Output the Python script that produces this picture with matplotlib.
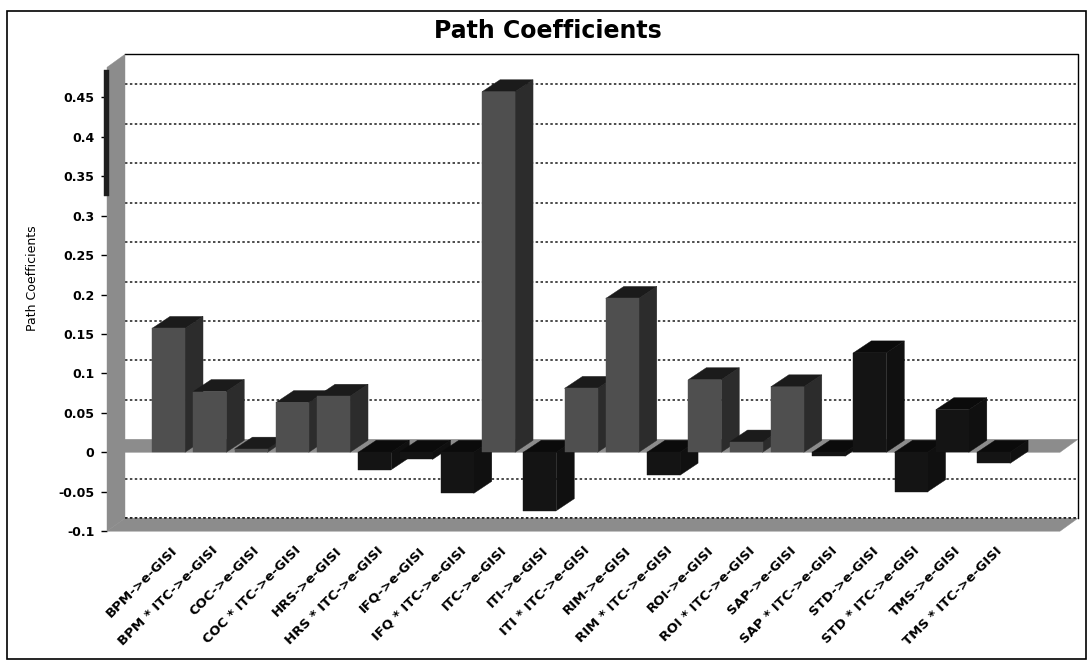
import matplotlib
matplotlib.use("Agg")
import matplotlib.pyplot as plt
from matplotlib.patches import Polygon, Rectangle
from matplotlib.transforms import ScaledTranslation

# ---- data -------------------------------------------------------------
categories = [
    "BPM->e-GISI", "BPM * ITC->e-GISI", "COC->e-GISI", "COC * ITC->e-GISI",
    "HRS->e-GISI", "HRS * ITC->e-GISI", "IFQ->e-GISI", "IFQ * ITC->e-GISI",
    "ITC->e-GISI", "ITI->e-GISI", "ITI * ITC->e-GISI", "RIM->e-GISI",
    "RIM * ITC->e-GISI", "ROI->e-GISI", "ROI * ITC->e-GISI", "SAP->e-GISI",
    "SAP * ITC->e-GISI", "STD->e-GISI", "STD * ITC->e-GISI", "TMS->e-GISI",
    "TMS * ITC->e-GISI",
]
path_coefficients = [
    0.157, 0.077, 0.004, 0.063, 0.071, -0.022, -0.009, -0.052, 0.457,
    -0.074, 0.081, 0.195, -0.029, 0.092, 0.013, 0.083, -0.005, 0.126,
    -0.050, 0.054, -0.014,
]
y_ticks = [-0.1, -0.05, 0, 0.05, 0.1, 0.15, 0.2, 0.25, 0.3, 0.35, 0.4, 0.45]
y_tick_labels = ["-0.1", "-0.05", "0", "0.05", "0.1", "0.15", "0.2",
                 "0.25", "0.3", "0.35", "0.4", "0.45"]
title = "Path Coefficients"
y_label = "Path Coefficients"

# ---- styling ----------------------------------------------------------
dark_series = {"STD->e-GISI", "TMS->e-GISI"}
FRONT_GRAY, SIDE_GRAY, TOP_GRAY = "#4f4f4f", "#2c2c2c", "#1b1b1b"
FRONT_DARK, SIDE_DARK, TOP_DARK = "#141414", "#101010", "#0b0b0b"
WALL = "#8c8c8c"

W, H, DPI = 1089, 664, 100
fig = plt.figure(figsize=(W / DPI, H / DPI), dpi=DPI)
fig.patch.set_facecolor("white")

# front plane of the 3-D box, in pixels
left_px, right_px = 107, 1060
bottom_px, top_px = 531.2, 67.3
ax = fig.add_axes([left_px / W, 1 - bottom_px / H,
                   (right_px - left_px) / W, (bottom_px - top_px) / H])
x0, x1 = -1.491, 21.61
y0, y1 = -0.1, 0.488
ax.set_xlim(x0, x1)
ax.set_ylim(y0, y1)
ax.patch.set_visible(False)
for s in ax.spines.values():
    s.set_visible(False)

# pixel -> data conversion for the oblique depth
px_x = (x1 - x0) / (right_px - left_px)
px_y = (y1 - y0) / (bottom_px - top_px)
DX, DY = 18 * px_x, 13 * px_y          # box depth
BX, BY = 18 * px_x, 12 * px_y          # bar depth
HW = 0.4                                # half bar width (categories)

def poly(pts, color, z, **kw):
    ax.add_patch(Polygon(pts, closed=True, facecolor=color, edgecolor=color,
                         linewidth=0.3, zorder=z, clip_on=False, **kw))

# back wall
ax.add_patch(Rectangle((x0 + DX, y0 + DY), x1 - x0, y1 - y0, facecolor="white",
                       edgecolor="none", zorder=0, clip_on=False))
ax.plot([x0 + DX, x1 + DX, x1 + DX], [y1 + DY, y1 + DY, y0 + DY],
        color="black", lw=1.0, zorder=1, clip_on=False)

# dotted gridlines on the back wall
for v in y_ticks:
    if v == 0:
        continue
    ax.plot([x0 + DX, x1 + DX], [v + DY, v + DY], color="#1a1a1a", lw=1.1,
            linestyle=(0, (1.6, 1.6)), zorder=2, clip_on=False)

# left wall
poly([(x0, y0), (x0 + DX, y0 + DY), (x0 + DX, y1 + DY), (x0, y1)], WALL, 3)
poly([(x0 - 3 * px_x, 0.325), (x0 + 2 * px_x, 0.325),
      (x0 + 2 * px_x, y1 - 0.004), (x0 - 3 * px_x, y1 - 0.004)], "#1e1e1e", 3.5)

# floor slab and zero plane
poly([(x0, y0), (x1, y0), (x1 + DX, y0 + DY), (x0 + DX, y0 + DY)], WALL, 3)
ax.plot([x0 + DX, x1 + DX], [y0 + DY, y0 + DY], color="#1a1a1a", lw=1.1,
        linestyle=(0, (1.6, 1.6)), zorder=3.2, clip_on=False)
poly([(x0, 0), (x1, 0), (x1 + DX, DY), (x0 + DX, DY)], WALL, 3)

# 3-D bars, drawn left to right
for i, (cat, v) in enumerate(zip(categories, path_coefficients)):
    dark = v < 0 or cat in dark_series
    fc, sc, tc = (FRONT_DARK, SIDE_DARK, TOP_DARK) if dark else (FRONT_GRAY, SIDE_GRAY, TOP_GRAY)
    lo, hi = min(0, v), max(0, v)
    z = 4 + i * 0.01
    ax.bar(i, v, width=2 * HW, color=fc, edgecolor=fc, linewidth=0.3,
           zorder=z + 0.003, clip_on=False)
    poly([(i + HW, lo), (i + HW + BX, lo + BY), (i + HW + BX, hi + BY), (i + HW, hi)], sc, z + 0.001)
    poly([(i - HW, hi), (i + HW, hi), (i + HW + BX, hi + BY), (i - HW + BX, hi + BY)], tc, z + 0.002)

# axes ticks and labels
ax.set_yticks(y_ticks)
ax.set_yticklabels(y_tick_labels, fontsize=9, fontweight="bold")
ax.tick_params(axis="y", direction="out", length=4, width=1, pad=5, color="black")

ax.set_xticks(range(len(categories)))
ax.set_xticklabels(categories, rotation=45, ha="right", va="center",
                   rotation_mode="anchor", fontsize=9.5, fontweight="bold")
ax.tick_params(axis="x", length=0, pad=12.5)
shift = ScaledTranslation(6.5 / DPI, 0, fig.dpi_scale_trans)
for lab in ax.get_xticklabels():
    lab.set_transform(lab.get_transform() + shift)

fig.text(548 / W, 1 - 31 / H, title, ha="center", va="center",
         fontsize=17, fontweight="bold")
fig.text(32 / W, 1 - 278 / H, y_label, rotation=90, ha="center", va="center",
         fontsize=9)

# outer chart frame
fig.add_artist(Rectangle((7 / W, 1 - 659 / H), (1086 - 7) / W, (659 - 11) / H,
                         transform=fig.transFigure, fill=False,
                         edgecolor="black", lw=1.2))

fig.savefig("out.png", dpi=DPI)
